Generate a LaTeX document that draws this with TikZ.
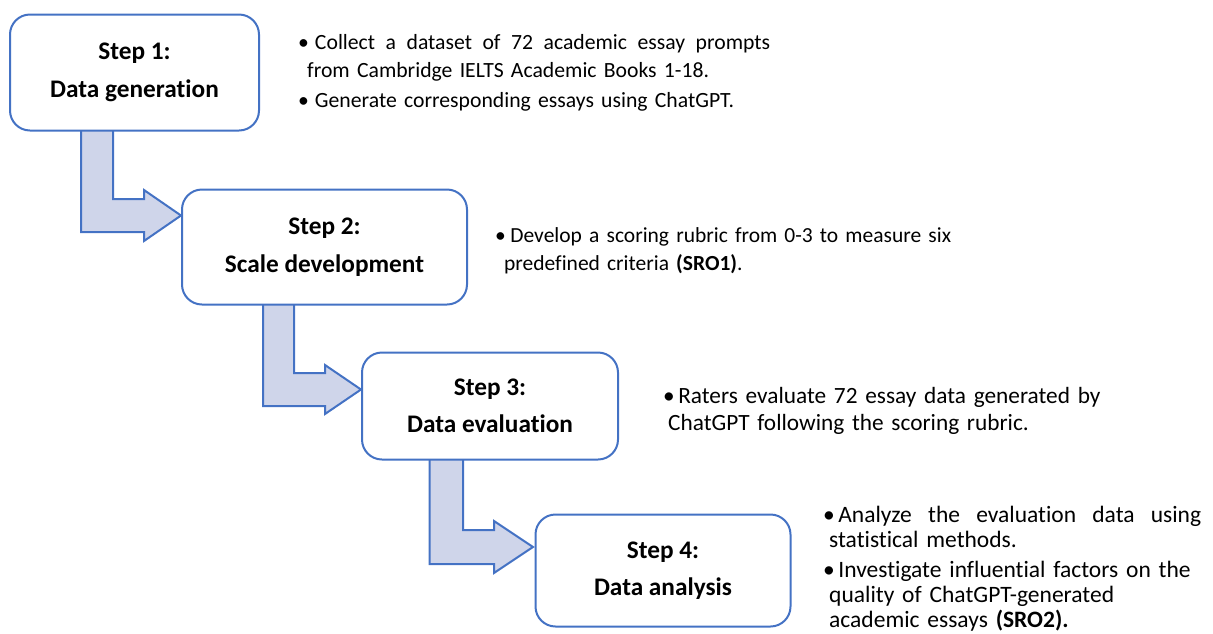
\documentclass[tikz,border=0pt]{standalone}
\usepackage{fontspec}
\setmainfont{Carlito}[Ligatures={NoCommon}]
\definecolor{bordblue}{HTML}{4472C4}
\definecolor{arrfill}{HTML}{CFD5EA}
\newcommand{\bul}[1]{\textbullet\hspace{#1}}
\begin{document}
\begin{tikzpicture}[x=1pt,y=-1pt,
  stepbox/.style={draw=bordblue, line width=2pt, rounded corners=20pt, fill=white,
    align=center, inner sep=0pt, font=\fontsize{25.3}{37.5}\selectfont\bfseries},
  bentarrow/.style={draw=bordblue, line width=2pt, fill=arrfill, line join=miter},
  bullettext/.style={anchor=base west, inner sep=0pt, align=left, text width=#1}
]
\useasboundingbox (0,0) rectangle (1213,633);

% arrows (drawn first, boxes on top)
\draw[bentarrow] (81,125) -- (81,232) -- (144,232) -- (144,241) -- (181,215.5)
  -- (144,190) -- (144,199) -- (113,199) -- (113,125) -- cycle;
\draw[bentarrow] (263,298) -- (263,406) -- (325,406) -- (325,414) -- (361,389.5)
  -- (325,365) -- (325,373) -- (294,373) -- (294,298) -- cycle;
\draw[bentarrow] (429.5,455) -- (429.5,564) -- (494,564) -- (494,573) -- (533,547)
  -- (494,521) -- (494,530) -- (463,530) -- (463,455) -- cycle;

% boxes
\node[stepbox, minimum width=249pt, minimum height=116pt] (b1) at (134.5,72.5)
  {Step 1:\\Data generation};
\node[stepbox, minimum width=285pt, minimum height=115pt] (b2) at (324.5,247)
  {Step 2:\\Scale development};
\node[stepbox, minimum width=256pt, minimum height=107pt] (b3) at (490,406)
  {Step 3:\\Data evaluation};
\node[stepbox, minimum width=255pt, minimum height=112pt] (b4) at (663,570.5)
  {Step 4:\\Data analysis};

% bullet texts
\node[bullettext=520pt, font=\fontsize{21.7}{28}\selectfont] (t1) at (298,49)
  {\hbox to 472pt{\bul{6pt}Collect\hfill a\hfill dataset\hfill of\hfill 72\hfill academic\hfill essay\hfill prompts}\\
   \hspace*{9pt}from Cambridge IELTS Academic Books 1-18.\\[2pt]
   \bul{6pt}Generate corresponding essays using ChatGPT.};
\node[bullettext=520pt, font=\fontsize{21.5}{28}\selectfont] (t2) at (495,242)
  {\bul{4.5pt}Develop a scoring rubric from 0-3 to measure six\\
   \hspace*{9pt}predefined criteria \textbf{(SRO1)}.};
\node[bullettext=480pt, font=\fontsize{23.3}{27}\selectfont] (t3) at (663,403)
  {\bul{3.5pt}Raters evaluate 72 essay data generated by\\
   \hspace*{5pt}ChatGPT following the scoring rubric.};
\node[bullettext=400pt, font=\fontsize{23.5}{25}\selectfont] (t4) at (823,522)
  {\hbox to 378pt{\bul{3.5pt}Analyze\hfill the\hfill evaluation\hfill data\hfill using}\\
   \hspace*{6pt}statistical methods.\\[5pt]
   \bul{3.5pt}Investigate influential factors on the\\
   \hspace*{6pt}quality of ChatGPT-generated\\
   \hspace*{6pt}academic essays \textbf{(SRO2).}};
\end{tikzpicture}
\end{document}
